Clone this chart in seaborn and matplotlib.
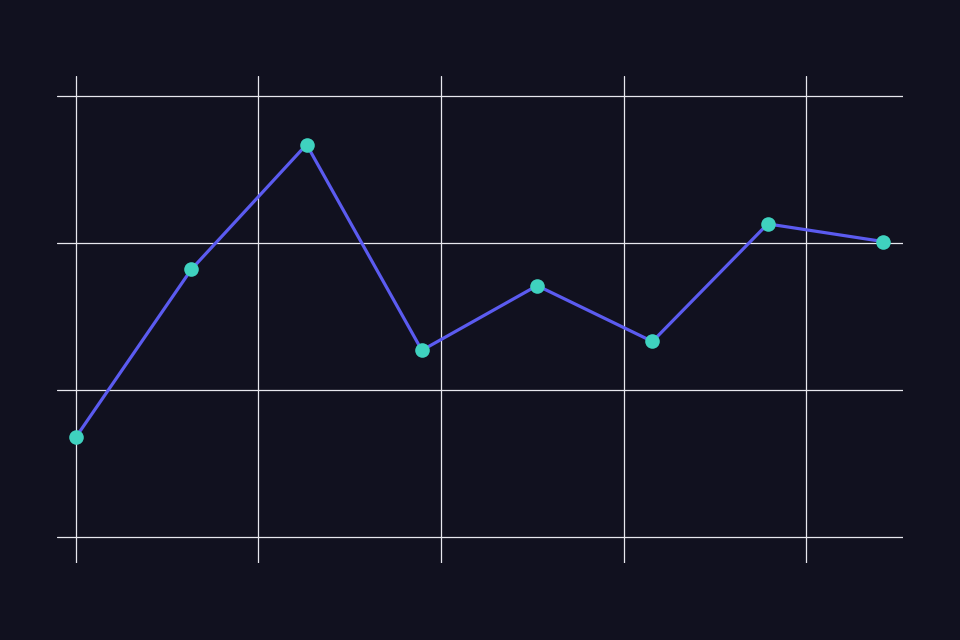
import numpy as np
import pandas as pd
import matplotlib
matplotlib.use("Agg")
import matplotlib.pyplot as plt
import seaborn as sns

# Data (y in arbitrary units, gridlines every 10)
steps = [0, 1, 2, 3, 4, 5, 6, 7]
values = [6.8, 18.2, 26.7, 12.7, 17.1, 13.3, 21.3, 20.1]
x_grid = [0, 1.583, 3.167, 4.75, 6.333]
y_grid = [0, 10, 20, 30]

df = pd.DataFrame({"step": steps, "value": values})

bg = "#11111f"
sns.set_theme(style="dark", rc={
    "axes.facecolor": bg,
    "figure.facecolor": bg,
    "grid.color": "#e8e8ee",
    "grid.linewidth": 0.9,
})

fig = plt.figure(figsize=(9.6, 6.4), dpi=100)
# axes spans the grid line extents: x 57..903 px, y 76..563 px
ax = fig.add_axes([57 / 960, 1 - 563 / 640, 846 / 960, 487 / 640])

sns.lineplot(data=df, x="step", y="value", ax=ax, color="#5b5bf0",
             linewidth=2.3, marker="o", markersize=10.5,
             markerfacecolor="#3fd2bf", markeredgewidth=0, zorder=3)

ax.set_xlim(-19 / 115.3, 7 + 20 / 115.3)
ax.set_ylim(-26 / 14.7, 30 + 20 / 14.7)
ax.set_xticks(x_grid)
ax.set_yticks(y_grid)
ax.grid(True, axis="both")
ax.tick_params(length=0, labelbottom=False, labelleft=False)
ax.set_xlabel("")
ax.set_ylabel("")
for s in ax.spines.values():
    s.set_visible(False)

fig.savefig("out.png", dpi=100, facecolor=bg)
